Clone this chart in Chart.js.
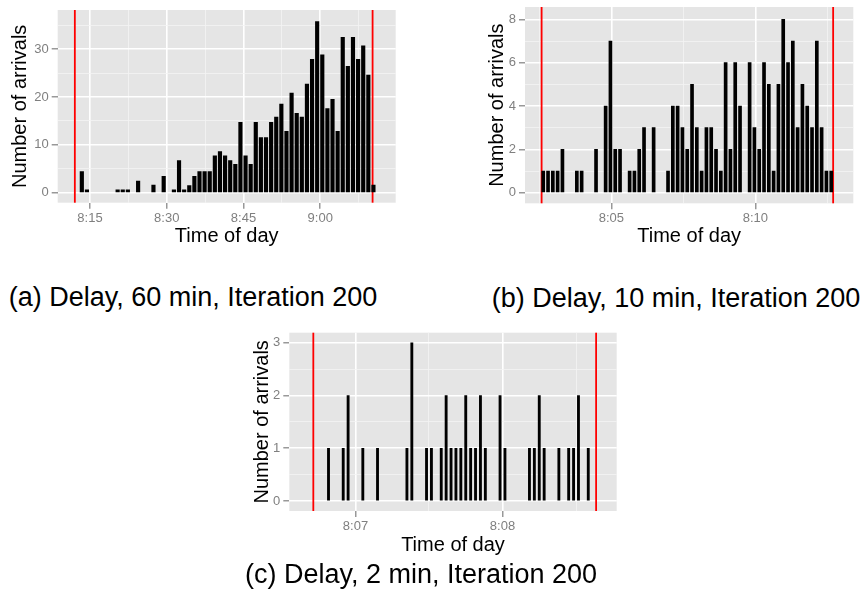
<!DOCTYPE html>
<html>
<head>
<meta charset="utf-8">
<script src="https://cdn.jsdelivr.net/npm/chart.js@4.4.0/dist/chart.umd.min.js"></script>
<style>
  html, body { margin: 0; padding: 0; background: #fff; }
  #page { position: relative; width: 860px; height: 590px; overflow: hidden;
          font-family: "Liberation Sans", Arial, sans-serif; }
  canvas { position: absolute; }
  .cap { position: absolute; font-size: 27px; line-height: 1; color: #000;
         white-space: nowrap; transform: translateX(-50%); }
</style>
</head>
<body>
<div id="page">
  <canvas id="chartA" width="400" height="250" style="left:0;top:0"></canvas>
  <canvas id="chartB" width="390" height="250" style="left:470px;top:0"></canvas>
  <canvas id="chartC" width="400" height="240" style="left:230px;top:320px"></canvas>
  <div class="cap" style="left:193px;top:284px">(a) Delay, 60 min, Iteration 200</div>
  <div class="cap" style="left:676px;top:285px">(b) Delay, 10 min, Iteration 200</div>
  <div class="cap" style="left:421px;top:561px">(c) Delay, 2 min, Iteration 200</div>
</div>
<script>
// all times are seconds after 8:00

// (a) Delay, 60 min -- one bar per minute
const timesA = [804, 864, 1224, 1284, 1344, 1464, 1644, 1764, 1884, 1944,
  2004, 2064, 2124, 2184, 2244, 2304, 2364, 2424, 2484, 2544,
  2604, 2664, 2724, 2784, 2844, 2904, 2964, 3024, 3084, 3144,
  3204, 3264, 3324, 3384, 3444, 3504, 3564, 3624, 3684, 3744,
  3804, 3864, 3924, 3984, 4044, 4104, 4164, 4224];
const countsA = [4.4, 0.6, 0.6, 0.6, 0.6, 2.4, 1.6, 3.4, 0.6, 6.7,
  0.6, 1.5, 3.4, 4.4, 4.4, 4.4, 7.7, 8.6, 7.7, 6.7,
  5.9, 14.7, 7.7, 5.9, 14.7, 11.5, 11.5, 14.7, 15.8, 18.5,
  12.8, 20.8, 16.6, 15.8, 22.7, 27.9, 35.8, 28.8, 17.6, 19.5,
  12.8, 32.5, 26.4, 32.5, 27.9, 30.7, 24.6, 1.6];
const limitsA = [722, 4214];
const xTicksA = [900, 1800, 2700, 3600];
const xLabelsA = ['8:15', '8:30', '8:45', '9:00'];
const xMinorA = [1350, 2250, 3150, 4050];
const yTicksA = [0, 10, 20, 30];
const yMinorA = [5, 15, 25, 35];

// (b) Delay, 10 min -- 10 s bins
const timesB = [158, 168, 178, 188, 198, 228, 238, 268, 288, 298,
  308, 318, 338, 348, 358, 368, 388, 418, 428, 438,
  448, 458, 468, 478, 488, 498, 508, 518, 528, 538,
  548, 558, 568, 588, 598, 608, 618, 628, 638, 648,
  658, 668, 678, 688, 698, 708, 718, 728, 738, 748, 758];
const countsB = [1, 1, 1, 1, 2, 1, 1, 2, 4, 7,
  2, 2, 1, 1, 2, 3, 3, 1, 4, 4,
  3, 2, 5, 3, 1, 3, 3, 2, 1, 6,
  2, 6, 4, 6, 3, 2, 6, 5, 1, 5,
  8, 6, 7, 3, 5, 4, 3, 7, 3, 1, 1];
const limitsB = [154.6, 762];
const xTicksB = [300, 600];
const xLabelsB = ['8:05', '8:10'];
const xMinorB = [150, 450, 750];
const yTicksB = [0, 2, 4, 6, 8];
const yMinorB = [1, 3, 5, 7];

// (c) Delay, 2 min -- 2 s bins
const timesC = [409, 415, 417, 423, 429, 441, 443, 449, 451, 455,
  457, 459, 461, 463, 465, 467, 469, 471, 473, 479,
  481, 491, 493, 495, 497, 503, 507, 509, 511, 515];
const countsC = [1, 1, 2, 1, 1, 1, 3, 1, 1, 1,
  2, 1, 1, 1, 2, 1, 1, 2, 1, 2,
  1, 1, 1, 2, 1, 1, 1, 1, 2, 1];
const limitsC = [402.8, 518.2];
const xTicksC = [420, 480];
const xLabelsC = ['8:07', '8:08'];
const xMinorC = [450, 510];
const yTicksC = [0, 1, 2, 3];
const yMinorC = [0.5, 1.5, 2.5];

Chart.defaults.font.family = '"Liberation Sans", Arial, sans-serif';

const panelBg = {
  id: 'panelBg',
  beforeDraw(chart) {
    const { ctx, chartArea: a } = chart;
    ctx.save();
    ctx.fillStyle = '#e5e5e5';
    ctx.fillRect(a.left, a.top, a.width, a.height);
    ctx.restore();
  }
};

// red vertical lines marking the delay window
const limitLines = {
  id: 'limitLines',
  beforeDatasetsDraw(chart, args, opts) {
    const { ctx, chartArea: a, scales: { x } } = chart;
    ctx.save();
    ctx.strokeStyle = '#ff0000';
    ctx.lineWidth = 1.8;
    for (const v of opts.values || []) {
      const px = x.getPixelForValue(v);
      ctx.beginPath();
      ctx.moveTo(px, a.top);
      ctx.lineTo(px, a.bottom);
      ctx.stroke();
    }
    ctx.restore();
  }
};

function tickList(major, minor) {
  return major.map(v => ({ value: v }))
    .concat(minor.map(v => ({ value: v, minor: true })))
    .sort((p, q) => p.value - q.value);
}

const isMinor = c => !!(c.tick && c.tick.minor);

function gridOpts() {
  return {
    color: c => isMinor(c) ? '#f4f4f4' : '#ffffff',
    lineWidth: c => isMinor(c) ? 0.8 : 1.6,
    tickColor: c => isMinor(c) ? 'rgba(0,0,0,0)' : '#7f7f7f',
    tickWidth: 1.2,
    tickLength: 6,
    offset: false
  };
}

function drawPanel(id, p) {
  return new Chart(document.getElementById(id), {
    type: 'bar',
    data: {
      datasets: [{
        data: p.times.map((t, i) => ({ x: t, y: p.counts[i] })),
        backgroundColor: '#000',
        barThickness: p.barWidth
      }]
    },
    options: {
      responsive: false,
      animation: false,
      layout: { padding: p.pad },
      plugins: {
        legend: { display: false },
        tooltip: { enabled: false },
        limitLines: { values: p.limits }
      },
      scales: {
        x: {
          type: 'linear', min: p.xMin, max: p.xMax, offset: false,
          grid: gridOpts(),
          border: { display: false },
          afterBuildTicks: s => { s.ticks = tickList(p.xTicks, p.xMinor); },
          afterFit: s => { s.height = p.xAxisH; s.paddingLeft = 0; s.paddingRight = 0; },
          ticks: {
            autoSkip: false, maxRotation: 0, padding: 3, color: '#7f7f7f',
            font: { size: 13, lineHeight: 1 },
            callback: (v, i, ts) => ts[i].minor ? '' : p.xLabels[p.xTicks.indexOf(v)]
          },
          title: {
            display: true, text: 'Time of day', color: '#000',
            font: { size: 20 }, padding: { top: 0, bottom: p.xTitlePad }
          }
        },
        y: {
          type: 'linear', min: p.yMin, max: p.yMax,
          grid: gridOpts(),
          border: { display: false },
          afterBuildTicks: s => { s.ticks = tickList(p.yTicks, p.yMinor); },
          afterFit: s => { s.width = p.yAxisW; s.paddingTop = 0; s.paddingBottom = 0; },
          ticks: {
            padding: 3, color: '#7f7f7f',
            font: { size: 13, lineHeight: 1 },
            callback: (v, i, ts) => ts[i].minor ? '' : String(v)
          },
          title: {
            display: true, text: 'Number of arrivals', color: '#000',
            font: { size: 20 }, padding: { top: p.yTitlePad, bottom: 0 }
          }
        }
      }
    },
    plugins: [panelBg, limitLines]
  });
}

drawPanel('chartA', {
  times: timesA, counts: countsA, limits: limitsA, barWidth: 3.5,
  xMin: 521, xMax: 4485, xTicks: xTicksA, xLabels: xLabelsA, xMinor: xMinorA,
  yMin: -2.1, yMax: 38.2, yTicks: yTicksA, yMinor: yMinorA,
  pad: { left: 0, top: 10, right: 4.3, bottom: 0 },
  yAxisW: 57.7, xAxisH: 47.3, xTitlePad: 1.3, yTitlePad: 8
});

drawPanel('chartB', {
  times: timesB, counts: countsB, limits: limitsB, barWidth: 3,
  xMin: 120, xMax: 804, xTicks: xTicksB, xLabels: xLabelsB, xMinor: xMinorB,
  yMin: -0.49, yMax: 8.57, yTicks: yTicksB, yMinor: yMinorB,
  pad: { left: 0, top: 7, right: 6.7, bottom: 0 },
  yAxisW: 55, xAxisH: 46.7, xTitlePad: 1.3, yTitlePad: 15.5
});

drawPanel('chartC', {
  times: timesC, counts: countsC, limits: limitsC, barWidth: 2.2,
  xMin: 393, xMax: 526.6, xTicks: xTicksC, xLabels: xLabelsC, xMinor: xMinorC,
  yMin: -0.19, yMax: 3.19, yTicks: yTicksC, yMinor: yMinorC,
  pad: { left: 0, top: 12.7, right: 13.3, bottom: 0 },
  yAxisW: 59.3, xAxisH: 49, xTitlePad: 3, yTitlePad: 20
});
</script>
</body>
</html>
